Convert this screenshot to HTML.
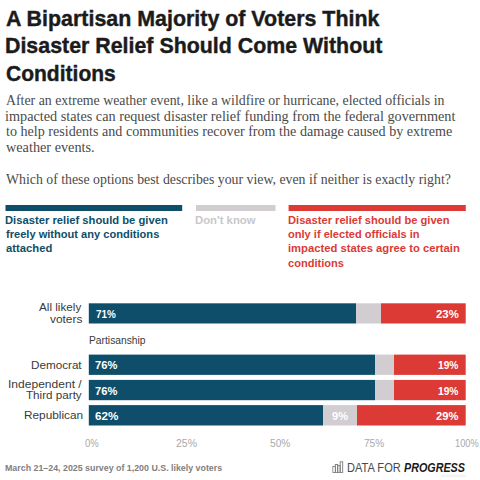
<!DOCTYPE html><html><head><meta charset="utf-8"><style>
html,body{margin:0;padding:0;background:#fff;width:480px;height:480px;overflow:hidden}
body{position:relative}.t{position:absolute;white-space:nowrap;margin:0;transform-origin:0 0}.r{position:absolute}
</style></head><body>
<svg class="r" style="left:0;top:0" width="480" height="480" viewBox="0 0 480 480">
<rect x="5.50" y="205.00" width="176.70" height="6.00" fill="#0e4e6a"/>
<rect x="196.00" y="205.00" width="79.50" height="6.00" fill="#d1cdd1"/>
<rect x="288.60" y="205.00" width="177.20" height="6.00" fill="#db3a35"/>
<defs><linearGradient id="g0" x1="88.8" x2="465.7" y1="0" y2="0" gradientUnits="userSpaceOnUse"><stop offset="0.70894" stop-color="#0e4e6a"/><stop offset="0.70894" stop-color="#d1cdd1"/><stop offset="0.77421" stop-color="#d1cdd1"/><stop offset="0.77421" stop-color="#db3a35"/></linearGradient><linearGradient id="g1" x1="88.8" x2="465.7" y1="0" y2="0" gradientUnits="userSpaceOnUse"><stop offset="0.75975" stop-color="#0e4e6a"/><stop offset="0.75975" stop-color="#d1cdd1"/><stop offset="0.81109" stop-color="#d1cdd1"/><stop offset="0.81109" stop-color="#db3a35"/></linearGradient><linearGradient id="g2" x1="88.8" x2="465.7" y1="0" y2="0" gradientUnits="userSpaceOnUse"><stop offset="0.75803" stop-color="#0e4e6a"/><stop offset="0.75803" stop-color="#d1cdd1"/><stop offset="0.80976" stop-color="#d1cdd1"/><stop offset="0.80976" stop-color="#db3a35"/></linearGradient><linearGradient id="g3" x1="88.8" x2="465.7" y1="0" y2="0" gradientUnits="userSpaceOnUse"><stop offset="0.62138" stop-color="#0e4e6a"/><stop offset="0.62138" stop-color="#d1cdd1"/><stop offset="0.71106" stop-color="#d1cdd1"/><stop offset="0.71106" stop-color="#db3a35"/></linearGradient></defs>
<rect x="88.80" y="303.30" width="376.90" height="20.20" fill="url(#g0)"/>
<rect x="88.80" y="354.60" width="376.90" height="20.30" fill="url(#g1)"/>
<rect x="88.80" y="379.90" width="376.90" height="20.30" fill="url(#g2)"/>
<rect x="88.80" y="405.10" width="376.90" height="20.40" fill="url(#g3)"/>
</svg>
<div class="t" id="t0" style="top:6.54px;font:normal 700 21.5px/24.020px 'Liberation Sans',sans-serif;color:#1b1b1b;-webkit-text-stroke:0.4px #1b1b1b;left:6.00px;transform:scaleX(0.9955);">A Bipartisan Majority of Voters Think</div>
<div class="t" id="t1" style="top:33.94px;font:normal 700 21.5px/24.020px 'Liberation Sans',sans-serif;color:#1b1b1b;-webkit-text-stroke:0.4px #1b1b1b;left:5.01px;transform:scaleX(0.9939);">Disaster Relief Should Come Without</div>
<div class="t" id="t2" style="top:61.94px;font:normal 700 21.5px/24.020px 'Liberation Sans',sans-serif;color:#1b1b1b;-webkit-text-stroke:0.4px #1b1b1b;left:6.00px;transform:scaleX(0.9777);">Conditions</div>
<div class="t" id="t3" style="top:92.52px;font:normal 400 14px/15.504px 'Liberation Serif',sans-serif;color:#4a4a4a;left:6.00px;transform:scaleX(0.9883);">After an extreme weather event, like a wildfire or hurricane, elected officials in</div>
<div class="t" id="t4" style="top:108.72px;font:normal 400 14px/15.504px 'Liberation Serif',sans-serif;color:#4a4a4a;left:4.98px;transform:scaleX(1.0163);">impacted states can request disaster relief funding from the federal government</div>
<div class="t" id="t5" style="top:123.82px;font:normal 400 14px/15.504px 'Liberation Serif',sans-serif;color:#4a4a4a;left:6.00px;transform:scaleX(1.0079);">to help residents and communities recover from the damage caused by extreme</div>
<div class="t" id="t6" style="top:139.92px;font:normal 400 14px/15.504px 'Liberation Serif',sans-serif;color:#4a4a4a;left:6.00px;transform:scaleX(1.0174);">weather events.</div>
<div class="t" id="t7" style="top:172.22px;font:normal 400 14px/15.504px 'Liberation Serif',sans-serif;color:#4a4a4a;left:6.00px;transform:scaleX(0.9867);">Which of these options best describes your view, even if neither is exactly right?</div>
<div class="t" id="t8" style="top:213.59px;font:normal 700 11.5px/12.848px 'Liberation Sans',sans-serif;color:#0e4e6a;left:5.02px;transform:scaleX(0.9758);">Disaster relief should be given</div>
<div class="t" id="t9" style="top:228.19px;font:normal 700 11.5px/12.848px 'Liberation Sans',sans-serif;color:#0e4e6a;left:6.00px;transform:scaleX(0.9635);">freely without any conditions</div>
<div class="t" id="t10" style="top:241.59px;font:normal 700 11.5px/12.848px 'Liberation Sans',sans-serif;color:#0e4e6a;left:6.00px;transform:scaleX(0.9787);">attached</div>
<div class="t" id="t11" style="top:213.59px;font:normal 700 11.5px/12.848px 'Liberation Sans',sans-serif;color:#c9c7c9;left:195.02px;transform:scaleX(0.9836);">Don't know</div>
<div class="t" id="t12" style="top:214.19px;font:normal 700 11.5px/12.848px 'Liberation Sans',sans-serif;color:#db3a35;left:288.41px;transform:scaleX(0.9687);">Disaster relief should be given</div>
<div class="t" id="t13" style="top:227.99px;font:normal 700 11.5px/12.848px 'Liberation Sans',sans-serif;color:#db3a35;left:288.42px;transform:scaleX(0.9618);">only if elected officials in</div>
<div class="t" id="t14" style="top:241.79px;font:normal 700 11.5px/12.848px 'Liberation Sans',sans-serif;color:#db3a35;left:288.41px;transform:scaleX(0.9777);">impacted states agree to certain</div>
<div class="t" id="t15" style="top:256.59px;font:normal 700 11.5px/12.848px 'Liberation Sans',sans-serif;color:#db3a35;left:288.42px;transform:scaleX(0.9614);">conditions</div>
<div class="t" id="t16" style="top:308.04px;font:normal 700 11px/12.289px 'Liberation Sans',sans-serif;color:#ffffff;left:95.87px;transform:scaleX(0.9000);">71%</div>
<div class="t" id="t17" style="top:308.04px;font:normal 700 11px/12.289px 'Liberation Sans',sans-serif;color:#ffffff;left:435.81px;transform:scaleX(1.0341);">23%</div>
<div class="t" id="t18" style="top:358.64px;font:normal 700 11px/12.289px 'Liberation Sans',sans-serif;color:#ffffff;left:95.39px;transform:scaleX(1.0136);">76%</div>
<div class="t" id="t19" style="top:358.64px;font:normal 700 11px/12.289px 'Liberation Sans',sans-serif;color:#ffffff;left:437.61px;transform:scaleX(0.9273);">19%</div>
<div class="t" id="t20" style="top:385.44px;font:normal 700 11px/12.289px 'Liberation Sans',sans-serif;color:#ffffff;left:95.39px;transform:scaleX(1.0136);">76%</div>
<div class="t" id="t21" style="top:385.44px;font:normal 700 11px/12.289px 'Liberation Sans',sans-serif;color:#ffffff;left:437.61px;transform:scaleX(0.9273);">19%</div>
<div class="t" id="t22" style="top:410.04px;font:normal 700 11px/12.289px 'Liberation Sans',sans-serif;color:#ffffff;left:95.08px;transform:scaleX(1.0591);">62%</div>
<div class="t" id="t23" style="top:410.04px;font:normal 700 11px/12.289px 'Liberation Sans',sans-serif;color:#ffffff;left:331.50px;transform:scaleX(1.0063);">9%</div>
<div class="t" id="t24" style="top:410.04px;font:normal 700 11px/12.289px 'Liberation Sans',sans-serif;color:#ffffff;left:435.67px;transform:scaleX(1.0136);">29%</div>
<div class="t" id="t25" style="top:300.97px;font:normal 400 11.3px/12.624px 'Liberation Sans',sans-serif;color:#3a3a3a;left:39.08px;transform:scaleX(1.0366);">All likely</div>
<div class="t" id="t26" style="top:312.77px;font:normal 400 11.3px/12.624px 'Liberation Sans',sans-serif;color:#3a3a3a;left:49.72px;transform:scaleX(1.0533);">voters</div>
<div class="t" id="t27" style="top:335.18px;font:normal 400 10.4px/11.619px 'Liberation Sans',sans-serif;color:#3a3a3a;left:88.50px;transform:scaleX(0.9893);">Partisanship</div>
<div class="t" id="t28" style="top:359.37px;font:normal 400 11.3px/12.624px 'Liberation Sans',sans-serif;color:#3a3a3a;left:30.98px;transform:scaleX(1.0337);">Democrat</div>
<div class="t" id="t29" style="top:378.27px;font:normal 400 11.3px/12.624px 'Liberation Sans',sans-serif;color:#3a3a3a;left:7.97px;transform:scaleX(1.0667);">Independent /</div>
<div class="t" id="t30" style="top:388.57px;font:normal 400 11.3px/12.624px 'Liberation Sans',sans-serif;color:#3a3a3a;left:25.99px;transform:scaleX(1.0315);">Third party</div>
<div class="t" id="t31" style="top:408.97px;font:normal 400 11.3px/12.624px 'Liberation Sans',sans-serif;color:#3a3a3a;left:23.53px;transform:scaleX(1.0473);">Republican</div>
<div class="t" id="t32" style="top:437.79px;font:normal 400 10.5px/11.731px 'Liberation Sans',sans-serif;color:#a9a9a9;left:85.42px;transform:scaleX(0.9067);">0%</div>
<div class="t" id="t33" style="top:437.79px;font:normal 400 10.5px/11.731px 'Liberation Sans',sans-serif;color:#a9a9a9;left:175.60px;transform:scaleX(0.9975);">25%</div>
<div class="t" id="t34" style="top:437.79px;font:normal 400 10.5px/11.731px 'Liberation Sans',sans-serif;color:#a9a9a9;left:270.00px;transform:scaleX(0.9667);">50%</div>
<div class="t" id="t35" style="top:437.79px;font:normal 400 10.5px/11.731px 'Liberation Sans',sans-serif;color:#a9a9a9;left:364.21px;transform:scaleX(0.9619);">75%</div>
<div class="t" id="t36" style="top:437.79px;font:normal 400 10.5px/11.731px 'Liberation Sans',sans-serif;color:#a9a9a9;left:454.62px;transform:scaleX(0.8778);">100%</div>
<div class="t" id="t37" style="top:463.45px;font:normal 700 9.0px/10.055px 'Liberation Sans',sans-serif;color:#808080;left:5.01px;transform:scaleX(0.9819);">March 21–24, 2025 survey of 1,200 U.S. likely voters</div>
<div class="t" id="t38" style="top:462.08px;font:normal 400 12.5px/13.965px 'Liberation Sans',sans-serif;color:#484848;left:347.11px;transform:scaleX(0.8864);">DATA FOR</div>
<div class="t" id="t39" style="top:462.08px;font:italic 700 12.5px/13.965px 'Liberation Sans',sans-serif;color:#1a1a1a;left:404.43px;transform:scaleX(0.8606);">PROGRESS</div>
<svg class="r" style="left:331px;top:460px" width="14" height="14" viewBox="0 0 14 14"><g fill="none" stroke="#7a7a7a" stroke-width="0.9"><rect x="1.9" y="6.4" width="2.4" height="6"/><rect x="4.3" y="4.5" width="2.4" height="7.9"/><rect x="6.7" y="5.6" width="2.4" height="6.8"/><rect x="9.2" y="1.8" width="2.5" height="10.6"/></g><rect x="2.4" y="7" width="1.4" height="5" fill="#eee"/></svg><svg class="r" style="left:440px;top:474px" width="27" height="4"><rect x="1" y="0.6" width="25" height="2.6" fill="#f3f3f3"/></svg>
</body></html>
